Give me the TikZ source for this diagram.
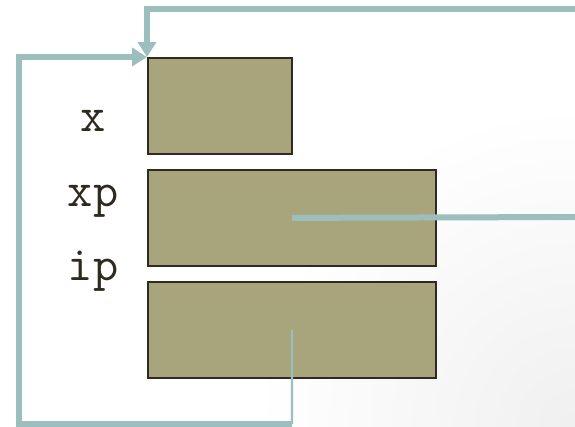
\documentclass[tikz,border=0pt]{standalone}
\usepackage{fontspec}
\usetikzlibrary{arrows.meta}
\definecolor{boxfill}{HTML}{A8A57D}
\definecolor{boxline}{HTML}{2F2A20}
\definecolor{wire}{HTML}{9CBFBD}
\begin{document}
\begin{tikzpicture}[x=1pt,y=-1pt,
  membox/.style={draw=boxline,line width=1.8pt,fill=boxfill,inner sep=0pt,anchor=north west},
  lbl/.style={font=\ttfamily\fontsize{49}{49}\selectfont,text=boxline,inner sep=0pt,anchor=base},
  thickwire/.style={draw=wire,line width=6pt},
  thinwire/.style={draw=wire,line width=2.2pt},
  tip/.style={-{Triangle[length=15pt,width=18pt]}}]
\useasboundingbox (0,0) rectangle (575,426);
\begin{scope}
\clip (0,0) rectangle (575,426);
\shade[inner color=black!6,outer color=white] (575,426) circle (320);
\end{scope}
\node[membox,minimum width=144pt,minimum height=96pt] (x) at (147,57) {};
\node[membox,minimum width=288pt,minimum height=96pt] (xp) at (147,169) {};
\node[membox,minimum width=288pt,minimum height=96pt] (ip) at (147,281) {};
\node[lbl] (lx) at (93,131) {x};
\node[lbl] (lxp) at (93,206) {xp};
\node[lbl] (lip) at (93,280) {ip};
\coordinate (tr) at (575,9);
\coordinate (tc) at (147,9);
\coordinate (xr) at (575,217);
\coordinate (bl) at (19,424);
\coordinate (br) at (292,424);
\coordinate (lt) at (19,57);
\draw[thickwire,tip] (tr) -- (tc) -- (x.north west);
\draw[thickwire] (xp.center) -- (xr);
\draw[thinwire] (ip.center) -- (br);
\draw[thickwire,tip] (br) -- (bl) -- (lt) -- (x.north west);
\end{tikzpicture}
\end{document}
